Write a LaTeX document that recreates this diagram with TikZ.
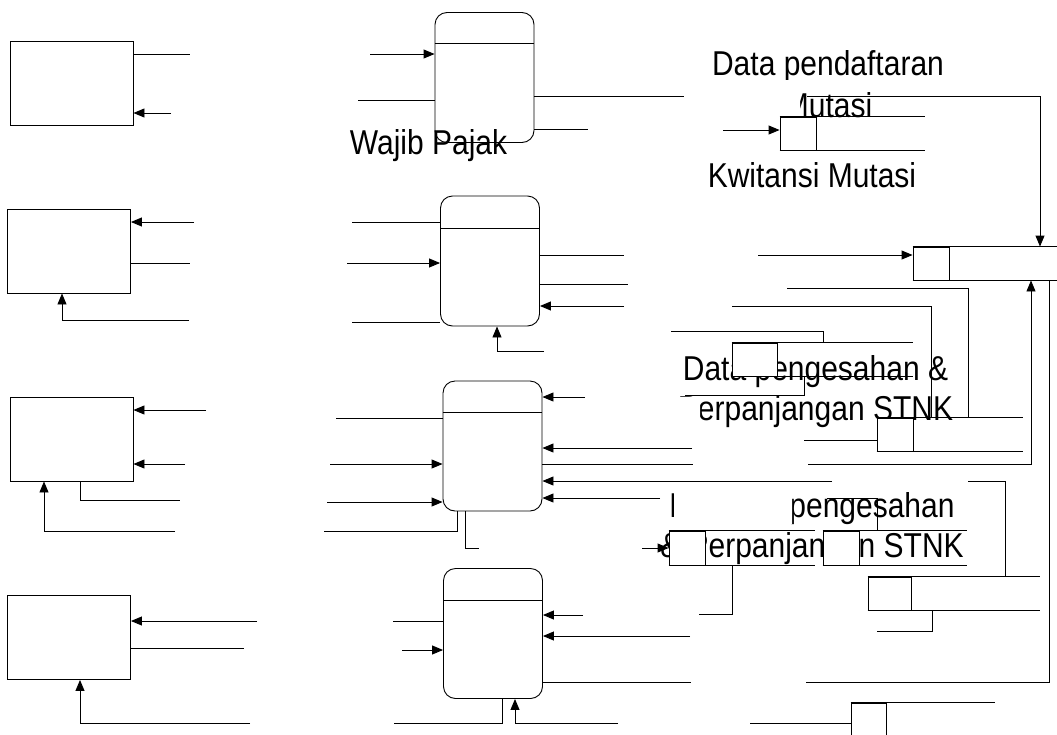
\documentclass[tikz,border=0pt]{standalone}
\usepackage{fontspec}
\setmainfont{Liberation Sans}
\usetikzlibrary{arrows.meta}
\newcommand\lbl[1]{\scalebox{1}[1.15]{\begin{tabular}[t]{@{}c@{}}#1\end{tabular}}}
\begin{document}
\begin{tikzpicture}[x=1pt,y=-1pt,>={Triangle[length=11pt,width=9pt]},line width=.9pt,
  ent/.style={draw,minimum width=123pt,minimum height=84pt,inner sep=0},
  proc/.style={draw,rounded corners=12pt,minimum width=99pt,minimum height=130pt,inner sep=0},
  dstore/.style={draw,fill=white,minimum width=36pt,minimum height=33pt,inner sep=0},
  lab/.style={anchor=base,inner sep=0,font=\fontsize{30}{35}\selectfont}]
\useasboundingbox (0,0) rectangle (1057,734);
% labels
\node[lab] (wp) at (428.5,154) {\lbl{Wajib Pajak}};
\node[lab] (dpm) at (828,75) {\lbl{Data pendaftaran\\[2pt]Mutasi}};
\node[lab] (km) at (812,187) {\lbl{Kwitansi Mutasi}};
\node[lab] (dps) at (815.5,380) {\lbl{Data pengesahan \&\\Perpanjangan STNK}};
\node[lab] (kps) at (812,517) {\lbl{Kwitansi pengesahan\\\& Perpanjangan STNK}};
\fill[white] (684,80) rectangle (800,124) (674,484) rectangle (792,524) (675,397) rectangle (700,428);
% entities and processes
\node[ent] (A1) at (71.5,83.5) {};
\node[ent] (A2) at (69,251) {};
\node[ent] (A3) at (71.5,439) {};
\node[ent] (A4) at (69,637.5) {};
\node[proc] (P1) at (484.5,77.5) {};
\node[proc] (P2) at (490,261) {};
\node[proc] (P3) at (492.5,446) {};
\node[proc] (P4) at (493,633.5) {};
\foreach \p/\d in {P1/43,P2/228,P3/412,P4/600}
  \draw (\p.west |- 0,\d) -- (\p.east |- 0,\d);
% data stores
\node[dstore] (S1) at (798,133.5) {};
\node[dstore] (S2) at (931,263.5) {};
\node[dstore,minimum width=45pt] (S3) at (754.5,359.5) {};
\node[dstore] (S6) at (895,434.5) {};
\node[dstore,minimum height=34pt] (S4) at (687,548) {};
\node[dstore,minimum height=34pt] (S5) at (841,548) {};
\node[dstore,minimum width=43pt] (S7) at (889.5,593.5) {};
\node[dstore,minimum width=35pt,minimum height=42pt] (S8) at (868.5,724) {};
\foreach \s/\e in {S1/925,S2/1057,S3/913,S6/1023,S4/815,S5/967,S7/1040,S8/995}
  \draw (\s.north west) -- (\s.north west -| \e,0) (\s.south west) -- (\s.south west -| \e,0);
% row 1
\draw (A1.east |- 0,54) -- (190,54);
\draw[->] (171,113) -- (A1.east |- 0,113);
\draw[->] (370,54) -- (P1.west |- 0,54);
\draw (358,100) -- (P1.west |- 0,100);
\draw (P1.east |- 0,96) -- (684,96);
\draw (P1.east |- 0,129) -- (588,129);
\draw[->] (807,96) -| (S2.north -| 1040,0);
\draw[->] (723,130) -- (S1.west |- 0,130);
% row 2
\draw[->] (194,222) -- (A2.east |- 0,222);
\draw (A2.east |- 0,263) -- (190,263);
\draw[->] (189,320) -| (A2.south -| 62,0);
\draw (352,222) -- (P2.west |- 0,222);
\draw[->] (347,263) -- (P2.west |- 0,263);
\draw (352,322) -- (P2.west |- 0,322);
\draw (P2.east |- 0,255) -- (624,255);
\draw (P2.east |- 0,284) -- (628,284);
\draw[->] (624,306) -- (P2.east |- 0,306);
\draw[->] (544,351) -| (P2.south -| 497,0);
\draw[->] (758,255) -- (S2.west |- 0,255);
\draw (787,288) -| (S6.north -| 968,0);
\draw (732,306) -| (S6.north -| 931,0);
\draw (671,331) -| (S3.north -| 823,0);
\draw[->] (808,464) -| (S2.south -| 1031,0);
\draw (806,682) -| (S2.south -| 1049,0);
% row 3
\draw[->] (206,410) -- (A3.east |- 0,410);
\draw[->] (185,464) -- (A3.east |- 0,464);
\draw (A3.south -| 80,0) |- (180,500);
\draw[->] (175,531) -| (A3.south -| 44,0);
\draw (336,418) -- (P3.west |- 0,418);
\draw[->] (330,464) -- (P3.west |- 0,464);
\draw[->] (327,502) -- (P3.west |- 0,502);
\draw (P3.south -| 457,0) |- (324,531);
\draw (P3.south -| 465,0) |- (479,548);
\draw[->] (585,397) -- (P3.east |- 0,397);
\draw[->] (692,448) -- (P3.east |- 0,448);
\draw (P3.east |- 0,464) -- (693,464);
\draw[->] (832,481) -- (P3.east |- 0,481);
\draw (968,481) -| (S7.north -| 1005,0);
\draw[->] (660,498) -- (P3.east |- 0,498);
\draw (S3.south -| 804,0) |- (685,395);
\draw (804,440) -- (S6.west |- 0,440);
\draw (827,498) -| (S5.north -| 877,0);
\draw[->] (642,548) -- (S4.west);
\draw (S4.south -| 732,0) |- (699,614);
\draw (S7.south -| 932,0) |- (877,631);
\draw (750,723) -- (S8.west |- 0,723);
% row 4
\draw[->] (257,621) -- (A4.east |- 0,621);
\draw (A4.east |- 0,648) -- (244,648);
\draw[->] (250,723) -| (A4.south -| 80,0);
\draw (393,621) -- (P4.west |- 0,621);
\draw[->] (402,650) -- (P4.west |- 0,650);
\draw[->] (583,615) -- (P4.east |- 0,615);
\draw[->] (690,636) -- (P4.east |- 0,636);
\draw (P4.east |- 0,682) -- (691,682);
\draw (P4.south -| 502,0) |- (394,723);
\draw[->] (618,723) -| (P4.south -| 515,0);
\end{tikzpicture}
\end{document}
